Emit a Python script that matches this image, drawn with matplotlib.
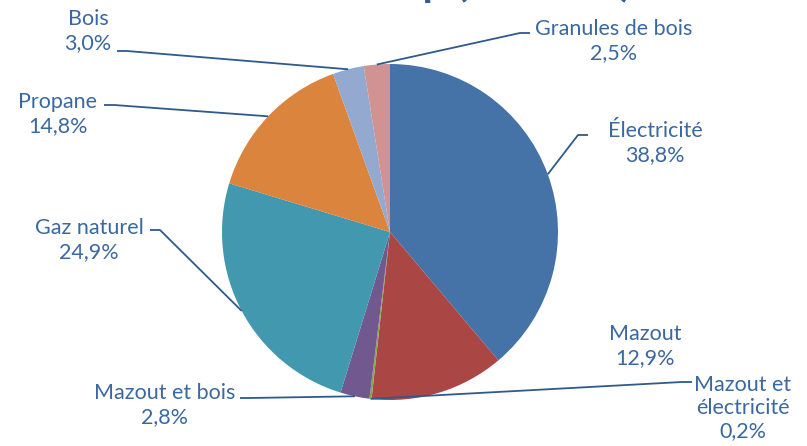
#!/usr/bin/env python3
"""
Pie chart of the main heating source, with Excel-style outside labels
and leader lines.  Saves out.png (807x446 px).
"""

import numpy as np
import matplotlib
matplotlib.use("Agg")
import matplotlib.pyplot as plt

# ------------------------------ data ------------------------------
categories = ["Électricité", "Mazout", "Mazout et\nélectricité", "Mazout et bois",
              "Gaz naturel", "Propane", "Bois", "Granules de bois"]
values = [38.8, 12.9, 0.2, 2.8, 24.9, 14.8, 3.0, 2.5]
colors = ["#4572A7", "#AA4643", "#89A54E", "#71588F",
          "#4198AF", "#DB843D", "#93A9CF", "#D19392"]

# label block centres and leader-line anchors, in pixels (origin top-left)
label_xy = [(655, 143), (645, 346), (743, 408), (165, 405),
            (89, 240), (58, 114), (88, 31), (614, 41)]
leader_xy = [(588, 135), None, (692, 382), (240, 398),
             (150, 230), (104, 105), (117, 51), (530, 33)]

# ---------------------------- layout ------------------------------
W, H = 807, 446
CX, CY, R = 390, 232, 168
TEXT_C = "#3A68A0"
LINE_C = "#2E5A8C"
FONT = "Lato"

fig = plt.figure(figsize=(W / 100, H / 100), dpi=100)
ax = fig.add_axes([0, 0, 1, 1])


def Y(py):
    return H - py


ax.pie(values, colors=colors, startangle=90, counterclock=False,
       center=(CX, Y(CY)), radius=R, wedgeprops=dict(linewidth=0))
# pie() resets the limits, so pin the pixel frame afterwards
ax.set_xlim(0, W)
ax.set_ylim(0, H)
ax.set_aspect("auto")
ax.axis("off")

# leader lines run from the middle of each slice's rim to the label
total = sum(values)
mids = (np.cumsum(values) - np.array(values) / 2) / total * 2 * np.pi
for name, v, (lx, ly), anchor, th in zip(categories, values, label_xy, leader_xy, mids):
    txt = f"{name}\n{v:.1f}".replace(".", ",") + "%"
    ax.text(lx, Y(ly), txt, ha="center", va="center", fontsize=15.5,
            color=TEXT_C, family=FONT, linespacing=1.2)
    if anchor is None:
        continue
    ex, ey = CX + R * np.sin(th), CY - R * np.cos(th)
    axp, ayp = anchor
    step = 10 if ex > axp else -10
    xs = [axp, axp + step, ex]
    ys = [ayp, ayp, ey]
    ax.plot(xs, [Y(y) for y in ys], color=LINE_C, lw=1.3, solid_capstyle="butt")

# title sits above the canvas; only its descenders show
ax.text(632, Y(-4), "Mode de chauffe des membres de la coop (en 2016)", ha="right",
        va="baseline", fontsize=30, fontweight="bold", color="#2F5F93",
        family=FONT, clip_on=False)

fig.savefig("out.png", dpi=100)
